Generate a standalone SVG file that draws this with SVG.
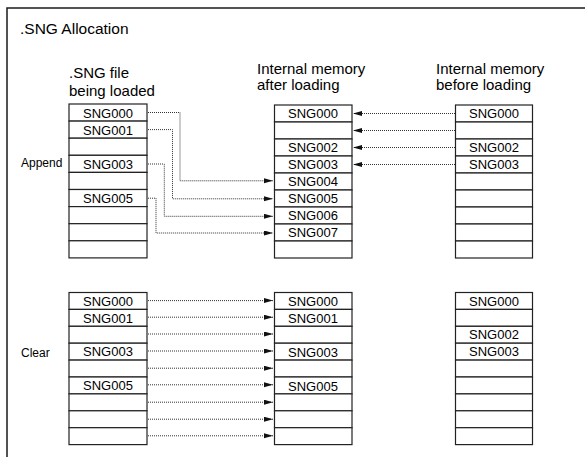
<svg xmlns="http://www.w3.org/2000/svg" width="585" height="457" viewBox="0 0 585 457">
<style>
.frame{fill:none;stroke:#1a1a1a;stroke-width:1.5}
.cell{fill:#fff;stroke:#222;stroke-width:1.2}
.ct{font-family:"Liberation Sans",Arial,sans-serif;font-size:13px;fill:#000;text-anchor:middle}
.hd{font-family:"Liberation Sans",Arial,sans-serif;font-size:15px;fill:#000}
.lb{font-family:"Liberation Sans",Arial,sans-serif;font-size:12px;fill:#000}
.ttl{font-family:"Liberation Sans",Arial,sans-serif;font-size:15.5px;fill:#000}
.cn{fill:none;stroke:#333;stroke-width:1;stroke-dasharray:1 1;marker-end:url(#ah)}
</style>
<defs>
<marker id="ah" markerUnits="userSpaceOnUse" markerWidth="10" markerHeight="6" refX="9" refY="2.5" orient="auto">
<path d="M0,0 L9,2.5 L0,5 z" fill="#111"/>
</marker>
</defs>
<rect width="585" height="457" fill="#fff"/>
<path class="frame" d="M7,457 V8 H585"/>
<text class="ttl" x="20" y="34">.SNG Allocation</text>

<g id="headers">
<text class="hd" x="69" y="78" font-size="15.8">.SNG file</text>
<text class="hd" x="69" y="96" font-size="15.8">being loaded</text>
<text class="hd" x="257" y="73.5" font-size="14.4">Internal memory</text>
<text class="hd" x="257" y="90" font-size="14.4">after loading</text>
<text class="hd" x="436" y="73.5" font-size="14.4">Internal memory</text>
<text class="hd" x="436" y="90" font-size="14.4">before loading</text>
</g>

<g id="label-append"><text class="lb" x="21" y="167">Append</text></g>
<g id="label-clear"><text class="lb" x="21" y="357">Clear</text></g>

<g id="append-file">
<rect class="cell" x="69" y="104" width="78" height="17.1"/>
<rect class="cell" x="69" y="121.1" width="78" height="17.1"/>
<rect class="cell" x="69" y="138.2" width="78" height="17.1"/>
<rect class="cell" x="69" y="155.3" width="78" height="17.1"/>
<rect class="cell" x="69" y="172.4" width="78" height="17.1"/>
<rect class="cell" x="69" y="189.5" width="78" height="17.1"/>
<rect class="cell" x="69" y="206.6" width="78" height="17.1"/>
<rect class="cell" x="69" y="223.7" width="78" height="17.1"/>
<rect class="cell" x="69" y="240.8" width="78" height="17.1"/>
<text class="ct" x="108" y="117.5">SNG000</text>
<text class="ct" x="108" y="134.6">SNG001</text>
<text class="ct" x="108" y="168.8">SNG003</text>
<text class="ct" x="108" y="203">SNG005</text>
</g>

<g id="append-after">
<rect class="cell" x="274.5" y="105" width="77.5" height="17"/>
<rect class="cell" x="274.5" y="122" width="77.5" height="17"/>
<rect class="cell" x="274.5" y="139" width="77.5" height="17"/>
<rect class="cell" x="274.5" y="156" width="77.5" height="17"/>
<rect class="cell" x="274.5" y="173" width="77.5" height="17"/>
<rect class="cell" x="274.5" y="190" width="77.5" height="17"/>
<rect class="cell" x="274.5" y="207" width="77.5" height="17"/>
<rect class="cell" x="274.5" y="224" width="77.5" height="17"/>
<rect class="cell" x="274.5" y="241" width="77.5" height="17"/>
<text class="ct" x="313" y="118.3">SNG000</text>
<text class="ct" x="313" y="152.3">SNG002</text>
<text class="ct" x="313" y="169.3">SNG003</text>
<text class="ct" x="313" y="186.3">SNG004</text>
<text class="ct" x="313" y="203.3">SNG005</text>
<text class="ct" x="313" y="220.3">SNG006</text>
<text class="ct" x="313" y="237.3">SNG007</text>
</g>

<g id="append-before">
<rect class="cell" x="455.5" y="105" width="77" height="17"/>
<rect class="cell" x="455.5" y="122" width="77" height="17"/>
<rect class="cell" x="455.5" y="139" width="77" height="17"/>
<rect class="cell" x="455.5" y="156" width="77" height="17"/>
<rect class="cell" x="455.5" y="173" width="77" height="17"/>
<rect class="cell" x="455.5" y="190" width="77" height="17"/>
<rect class="cell" x="455.5" y="207" width="77" height="17"/>
<rect class="cell" x="455.5" y="224" width="77" height="17"/>
<rect class="cell" x="455.5" y="241" width="77" height="17"/>
<text class="ct" x="494" y="118.3">SNG000</text>
<text class="ct" x="494" y="152.3">SNG002</text>
<text class="ct" x="494" y="169.3">SNG003</text>
</g>

<g id="clear-file">
<rect class="cell" x="69" y="292.5" width="78" height="16.9"/>
<rect class="cell" x="69" y="309.4" width="78" height="16.9"/>
<rect class="cell" x="69" y="326.3" width="78" height="16.9"/>
<rect class="cell" x="69" y="343.2" width="78" height="16.9"/>
<rect class="cell" x="69" y="360.1" width="78" height="16.9"/>
<rect class="cell" x="69" y="377" width="78" height="16.9"/>
<rect class="cell" x="69" y="393.9" width="78" height="16.9"/>
<rect class="cell" x="69" y="410.8" width="78" height="16.9"/>
<rect class="cell" x="69" y="427.7" width="78" height="16.9"/>
<text class="ct" x="108" y="305.6">SNG000</text>
<text class="ct" x="108" y="322.5">SNG001</text>
<text class="ct" x="108" y="356.3">SNG003</text>
<text class="ct" x="108" y="390.1">SNG005</text>
</g>

<g id="clear-after">
<rect class="cell" x="274.5" y="292.5" width="77.5" height="16.9"/>
<rect class="cell" x="274.5" y="309.4" width="77.5" height="16.9"/>
<rect class="cell" x="274.5" y="326.3" width="77.5" height="16.9"/>
<rect class="cell" x="274.5" y="343.2" width="77.5" height="16.9"/>
<rect class="cell" x="274.5" y="360.1" width="77.5" height="16.9"/>
<rect class="cell" x="274.5" y="377" width="77.5" height="16.9"/>
<rect class="cell" x="274.5" y="393.9" width="77.5" height="16.9"/>
<rect class="cell" x="274.5" y="410.8" width="77.5" height="16.9"/>
<rect class="cell" x="274.5" y="427.7" width="77.5" height="16.9"/>
<text class="ct" x="313" y="305.6">SNG000</text>
<text class="ct" x="313" y="322.5">SNG001</text>
<text class="ct" x="313" y="357">SNG003</text>
<text class="ct" x="313" y="390.8">SNG005</text>
</g>

<g id="clear-before">
<rect class="cell" x="455.5" y="292.5" width="77" height="16.9"/>
<rect class="cell" x="455.5" y="309.4" width="77" height="16.9"/>
<rect class="cell" x="455.5" y="326.3" width="77" height="16.9"/>
<rect class="cell" x="455.5" y="343.2" width="77" height="16.9"/>
<rect class="cell" x="455.5" y="360.1" width="77" height="16.9"/>
<rect class="cell" x="455.5" y="377" width="77" height="16.9"/>
<rect class="cell" x="455.5" y="393.9" width="77" height="16.9"/>
<rect class="cell" x="455.5" y="410.8" width="77" height="16.9"/>
<rect class="cell" x="455.5" y="427.7" width="77" height="16.9"/>
<text class="ct" x="494" y="305.6">SNG000</text>
<text class="ct" x="494" y="339.4">SNG002</text>
<text class="ct" x="494" y="356.3">SNG003</text>
</g>

<g id="connectors">
<path class="cn" d="M148,112.5 H180 V180.8 H273"/>
<path class="cn" d="M148,129.6 H172.5 V198.8 H273"/>
<path class="cn" d="M148,164 H164.3 V216.3 H273"/>
<path class="cn" d="M148,198.2 H156 V233 H273"/>
<path class="cn" d="M455,113.5 H353"/>
<path class="cn" d="M455,130.5 H353"/>
<path class="cn" d="M455,147.5 H353"/>
<path class="cn" d="M455,164.5 H353"/>
<path class="cn" d="M148,300.6 H273"/>
<path class="cn" d="M148,317.2 H273"/>
<path class="cn" d="M148,334 H273"/>
<path class="cn" d="M148,351 H273"/>
<path class="cn" d="M148,368.2 H273"/>
<path class="cn" d="M148,384.8 H273"/>
<path class="cn" d="M148,402.2 H273"/>
<path class="cn" d="M148,419.2 H273"/>
<path class="cn" d="M148,435.8 H273"/>
</g>
</svg>
